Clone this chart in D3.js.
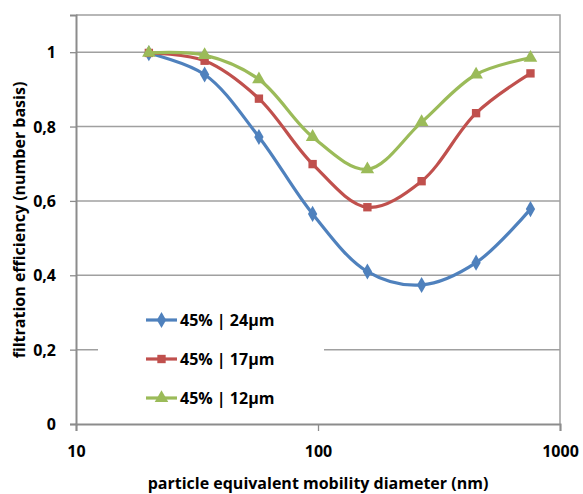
<!DOCTYPE html>
<html>
<head>
<meta charset="utf-8">
<script src="https://cdn.jsdelivr.net/npm/d3@7"></script>
<style>
  body { margin: 0; background: #fff; }
  svg text { font-family: "Open Sans", Lato, sans-serif; font-weight: bold; fill: #000; }
</style>
</head>
<body>
<div id="chart"></div>
<script>
// particle diameters (nm) and filtration efficiency per filter
const diameters = [20, 34, 57, 95, 160, 268, 450, 755];
const eff_24um = [0.997, 0.94, 0.772, 0.565, 0.41, 0.374, 0.434, 0.578];
const eff_17um = [0.998, 0.977, 0.875, 0.699, 0.583, 0.653, 0.836, 0.943];
const eff_12um = [0.998, 0.992, 0.927, 0.772, 0.685, 0.812, 0.94, 0.985];
const series_names = ["45% | 24µm", "45% | 17µm", "45% | 12µm"];
const y_ticks = [0, 0.2, 0.4, 0.6, 0.8, 1];
const x_ticks = [10, 100, 1000];

const w = 583;
const h = 494;
const margin = { top: 15, right: 23, bottom: 70, left: 76 };
const font_size = "16px";

const series = [
    { name: series_names[0], values: eff_24um, color: "#4f81bd", symbol: d3.symbolDiamond, size: 75 },
    { name: series_names[1], values: eff_17um, color: "#c0504d", symbol: d3.symbolSquare, size: 70 },
    { name: series_names[2], values: eff_12um, color: "#9bbb59", symbol: d3.symbolTriangle, size: 80 }
];

const svg = d3.select("#chart").append("svg")
    .attr("width", w)
    .attr("height", h);

const x = d3.scaleLog().domain([10, 1000]).range([margin.left, w - margin.right]);
const y = d3.scaleLinear().domain([0, 1.1]).range([h - margin.bottom, margin.top]);

// gridlines
svg.append("g")
    .selectAll("line")
    .data(y_ticks.filter(d => d > 0))
    .join("line")
    .attr("x1", margin.left).attr("x2", w - margin.right)
    .attr("y1", d => y(d)).attr("y2", d => y(d))
    .attr("stroke", "#a0a0a0")
    .attr("stroke-width", 1.5);

// plot frame (top and right)
svg.append("path")
    .attr("d", `M${margin.left},${margin.top}H${w - margin.right}V${h - margin.bottom}`)
    .attr("fill", "none")
    .attr("stroke", "#a0a0a0")
    .attr("stroke-width", 1.5);

// legend background hides part of the grid
const legend = svg.append("g");
legend.append("rect")
    .attr("x", 98).attr("y", 298)
    .attr("width", 226).attr("height", 118)
    .attr("fill", "#fff");

// axes
const y_axis = svg.append("g")
    .attr("transform", `translate(${margin.left},0)`)
    .call(d3.axisLeft(y).tickValues(y_ticks).tickSize(6).tickPadding(14)
        .tickFormat(d => d3.format("")(d).replace(".", ",")));
const x_axis = svg.append("g")
    .attr("transform", `translate(0,${h - margin.bottom})`)
    .call(d3.axisBottom(x).tickValues(x_ticks).tickSize(7).tickPadding(15)
        .tickFormat(d3.format("d")));

[y_axis, x_axis].forEach(a => {
    a.select(".domain").attr("stroke", "#8c8c8c").attr("stroke-width", 2);
    a.selectAll(".tick line").attr("stroke", "#8c8c8c").attr("stroke-width", 1.3);
    a.selectAll("text").style("font-size", font_size).attr("font-family", null).attr("fill", "#000");
});
y_axis.selectAll("text").attr("dy", "0.35em");

// curves
const line = d3.line()
    .x(d => x(d[0]))
    .y(d => y(d[1]))
    .curve(d3.curveCatmullRom.alpha(0.5));

series.forEach(s => {
    const pts = diameters.map((d, i) => [d, s.values[i]]);
    svg.append("path")
        .datum(pts)
        .attr("d", line)
        .attr("fill", "none")
        .attr("stroke", s.color)
        .attr("stroke-width", 3.2);
    svg.append("g")
        .selectAll("path")
        .data(pts)
        .join("path")
        .attr("transform", d => `translate(${x(d[0])},${y(d[1])})`)
        .attr("d", d3.symbol().type(s.symbol).size(s.size))
        .attr("fill", s.color);
});

// legend entries
const rows = legend.selectAll("g.row")
    .data(series)
    .join("g")
    .attr("class", "row")
    .attr("transform", (d, i) => `translate(146,${320 + i * 39})`);

rows.append("line")
    .attr("x1", 0).attr("x2", 31)
    .attr("stroke", d => d.color)
    .attr("stroke-width", 3.2);
rows.append("path")
    .attr("transform", "translate(15.5,0)")
    .attr("d", d => d3.symbol().type(d.symbol).size(d.size)())
    .attr("fill", d => d.color);
rows.append("text")
    .attr("x", 34)
    .attr("dy", "0.35em")
    .style("font-size", font_size)
    .text(d => d.name);

// axis titles
svg.append("text")
    .attr("x", 318)
    .attr("y", 489)
    .attr("text-anchor", "middle")
    .style("font-size", font_size)
    .text("particle equivalent mobility diameter (nm)");

svg.append("text")
    .attr("transform", "rotate(-90)")
    .attr("x", -220)
    .attr("y", 25)
    .attr("text-anchor", "middle")
    .style("font-size", font_size)
    .text("filtration efficiency (number basis)");
</script>
</body>
</html>
